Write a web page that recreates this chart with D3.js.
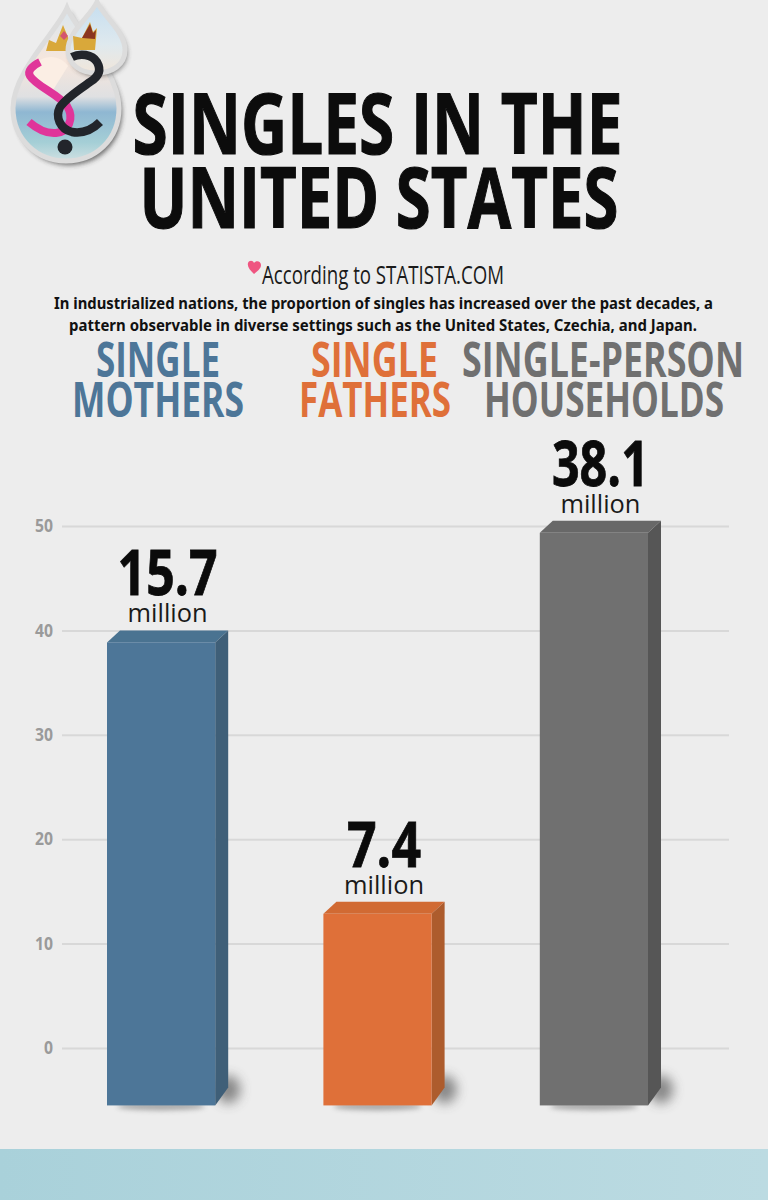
<!DOCTYPE html>
<html>
<head>
<meta charset="utf-8">
<script src="https://cdn.jsdelivr.net/npm/d3@7"></script>
<style>
  html,body{margin:0;padding:0;background:#ededed;}
  svg{display:block;}
  text{font-family:"Open Sans",sans-serif;}
</style>
</head>
<body>
<svg></svg>
<script>
// chart data
const categories = ["Single Mothers", "Single Fathers", "Single-Person Households"];
const barValues = [40, 14, 50.5];       // height against the drawn axis (back edge of bar top)
const bigLabels = ["15.7", "7.4", "38.1"];
const bigWidths = [100, 74, 97];
const unitLabel = "million";
const headerLines = [["SINGLE", "MOTHERS"], ["SINGLE", "FATHERS"], ["SINGLE-PERSON", "HOUSEHOLDS"]];
const headerX = [[158, 158], [374.5, 375], [603, 604]];
const headerW = [[124, 172], [127, 152], [282, 240]];
const frontColors = ["#4d7698", "#df7039", "#707070"];
const sideColors = ["#3f5f78", "#ad5c2d", "#565656"];
const topColors = ["#4a7391", "#d16a33", "#686868"];
const yTicks = [0, 10, 20, 30, 40, 50];
const axisBottomValue = -5.5;  // bars run on below the zero line

const svg = d3.select("svg").attr("width", 768).attr("height", 1200);
const defs = svg.append("defs");

// page background and teal strip
svg.append("rect").attr("width", 768).attr("height", 1200).attr("fill", "#ededed");
const teal = defs.append("linearGradient").attr("id", "teal");
teal.append("stop").attr("offset", "0").attr("stop-color", "#a9d1da");
teal.append("stop").attr("offset", "1").attr("stop-color", "#bcdbe2");
svg.append("rect").attr("y", 1149).attr("width", 768).attr("height", 51).attr("fill", "url(#teal)");

function addBlur(id, sd) {
  defs.append("filter").attr("id", id).attr("x", "-80%").attr("y", "-80%").attr("width", "260%").attr("height", "260%")
    .append("feGaussianBlur").attr("stdDeviation", sd);
}
addBlur("blur", 6);
addBlur("blur2", 2.5);

// helper: text squeezed to the width seen in the picture
function fitText(parent, str, x, y, size, w, fill, weight) {
  return parent.append("text")
    .attr("x", x).attr("y", y)
    .attr("text-anchor", "middle")
    .attr("font-size", size)
    .attr("font-weight", weight)
    .attr("fill", fill)
    .attr("textLength", w)
    .attr("lengthAdjust", "spacingAndGlyphs")
    .text(str);
}

// titles
fitText(svg, "SINGLES IN THE", 377.5, 154, 85, 490, "#0c0c0c", 700).attr("stroke", "#0c0c0c").attr("stroke-width", 1.2);
fitText(svg, "UNITED STATES", 379, 228, 85, 479, "#0c0c0c", 700).attr("stroke", "#0c0c0c").attr("stroke-width", 1.2);
fitText(svg, "According to STATISTA.COM", 383, 284, 25, 242, "#1a1a1a", 400);
fitText(svg, "In industrialized nations, the proportion of singles has increased over the past decades, a", 383.5, 309, 16.5, 659, "#111", 700)
  .style("font-family", "'Noto Sans',sans-serif");
fitText(svg, "pattern observable in diverse settings such as the United States, Czechia, and Japan.", 383, 331, 16.5, 628, "#111", 700)
  .style("font-family", "'Noto Sans',sans-serif");

svg.append("path")
  .attr("d", "M254,274 C250,270 247,267 248,263 C249,260 253,260 254,263 C256,260 261,261 261,265 C261,269 257,271 254,274 Z")
  .attr("fill", "#ef5581");

// column headers
headerLines.forEach((lines, i) => {
  lines.forEach((line, j) => {
    fitText(svg, line, headerX[i][j], j === 0 ? 377 : 417, 48, headerW[i][j], frontColors[i], 700);
  });
});

// scales
const y = d3.scaleLinear().domain([0, 50]).range([1048, 526]);
const x = d3.scaleBand().domain(categories).range([107, 648]).paddingInner(0.5);
const depthX = 13, depthY = 12;

// y axis with the grid lines
const yAxis = d3.axisLeft(y).tickValues(yTicks).tickSize(-667).tickPadding(9);
const axisG = svg.append("g").attr("transform", "translate(62,0)").call(yAxis);
axisG.select(".domain").remove();
axisG.selectAll(".tick line").attr("stroke", "#d8d8d8").attr("stroke-width", 2);
axisG.selectAll(".tick text")
  .attr("fill", "#9a9a9a")
  .attr("font-size", 18)
  .attr("font-weight", 700)
  .attr("textLength", d => d === 0 ? 9 : 18)
  .attr("lengthAdjust", "spacingAndGlyphs")
  .style("font-family", "'Open Sans',sans-serif");

// bars
const data = categories.map((c, i) => ({ c, i, v: barValues[i] }));
const bars = svg.selectAll("g.bar").data(data).enter().append("g").attr("class", "bar");
const bw = x.bandwidth();

// soft shadows on the floor
bars.append("ellipse")
  .attr("cx", d => x(d.c) + bw + depthX)
  .attr("cy", y(axisBottomValue) - 16)
  .attr("rx", 12).attr("ry", 14)
  .attr("fill", "#444").attr("opacity", .6).attr("filter", "url(#blur)");
bars.append("ellipse")
  .attr("cx", d => x(d.c) + bw / 2)
  .attr("cy", y(axisBottomValue) + 1)
  .attr("rx", bw / 2 - 10).attr("ry", 4)
  .attr("fill", "#666").attr("opacity", .5).attr("filter", "url(#blur2)");

// top face, then side face, then front
bars.append("path")
  .attr("fill", d => topColors[d.i])
  .attr("d", d => {
    const l = x(d.c), t = y(d.v);
    return `M${l},${t + depthY}L${l + depthX},${t}L${l + bw + depthX},${t}L${l + bw},${t + depthY}Z`;
  });
bars.append("path")
  .attr("fill", d => sideColors[d.i])
  .attr("d", d => {
    const r = x(d.c) + bw, t = y(d.v), b = y(axisBottomValue);
    return `M${r},${t + depthY}L${r + depthX},${t}L${r + depthX},${b - depthY - 6}L${r},${b}Z`;
  });
bars.append("rect")
  .attr("x", d => x(d.c))
  .attr("y", d => y(d.v) + depthY)
  .attr("width", bw)
  .attr("height", d => y(axisBottomValue) - y(d.v) - depthY)
  .attr("fill", d => frontColors[d.i]);

// value labels above the bars
bars.append("text")
  .attr("x", d => x(d.c) + bw / 2 + depthX / 2)
  .attr("y", d => y(d.v) - 35)
  .attr("text-anchor", "middle")
  .attr("font-size", 63)
  .attr("font-weight", 700)
  .attr("fill", "#0b0b0b")
  .attr("stroke", "#0b0b0b")
  .attr("stroke-width", .8)
  .attr("textLength", d => bigWidths[d.i])
  .attr("lengthAdjust", "spacingAndGlyphs")
  .text(d => bigLabels[d.i]);
bars.append("text")
  .attr("x", d => x(d.c) + bw / 2 + depthX / 2)
  .attr("y", d => y(d.v) - 8)
  .attr("text-anchor", "middle")
  .attr("font-size", 25)
  .attr("fill", "#1a1a1a")
  .attr("textLength", 80)
  .attr("lengthAdjust", "spacingAndGlyphs")
  .text(unitLabel);

// logo: two water drops with crowns and the S shapes
const logo = svg.append("g");
const sea = defs.append("linearGradient").attr("id", "sea").attr("x1", 0).attr("x2", 0).attr("y1", 0).attr("y2", 1);
[["0", "#d9e6ee"], [".35", "#f6e6dc"], [".58", "#dfe0e2"], [".68", "#8fb7d2"], [".88", "#a5cfd6"], ["1", "#cfe0e2"]]
  .forEach(s => sea.append("stop").attr("offset", s[0]).attr("stop-color", s[1]));
const sky = defs.append("linearGradient").attr("id", "sky").attr("x1", 0).attr("x2", 0).attr("y1", 0).attr("y2", 1);
[["0", "#c5def0"], [".6", "#dfe9ee"], ["1", "#f1e6da"]]
  .forEach(s => sky.append("stop").attr("offset", s[0]).attr("stop-color", s[1]));

const bigDrop = "M67,8 C58,30 13,72 13,108 C13,140 38,161 66,161 C95,161 119,140 119,108 C119,72 76,30 67,8 Z";
const smallDrop = "M97,2 C90,17 68,32 68,50 C68,65 81,73 96,73 C112,73 125,65 125,50 C125,32 104,17 97,2 Z";

logo.append("path").attr("d", bigDrop).attr("transform", "translate(3,4)").attr("fill", "#333").attr("opacity", .7).attr("filter", "url(#blur2)");
logo.append("path").attr("d", bigDrop).attr("fill", "url(#sea)").attr("stroke", "#dcdcdc").attr("stroke-width", 5);
// big crown
logo.append("path").attr("d", "M46,51 L49,40 L56,43 L63,25 L70,42 L76,38 L76,51 Z").attr("fill", "#d9a83a");
logo.append("path").attr("d", "M60,36 l4,-5 l4,5 l-4,4 Z").attr("fill", "#d4556e");
// cream heart behind the S
logo.append("path").attr("d", "M40,60 C52,54 62,58 68,66 L50,95 L32,80 C28,72 32,64 40,60 Z").attr("fill", "#fbeee4");
// pink S
logo.append("path")
  .attr("d", "M40,62 C32,66 27,71 30,76 C36,86 58,94 67,106 C75,119 68,132 56,133 C45,134 36,128 29,122")
  .attr("fill", "none").attr("stroke", "#e0359a").attr("stroke-width", 8);
// small drop goes over the big one
logo.append("path").attr("d", smallDrop).attr("transform", "translate(2,3)").attr("fill", "#333").attr("opacity", .6).attr("filter", "url(#blur2)");
logo.append("path").attr("d", smallDrop).attr("fill", "url(#sky)").attr("stroke", "#dcdcdc").attr("stroke-width", 5);
// small crown
logo.append("path").attr("d", "M74,50 L73,36 L82,38 L90,22 L93,32 L97,28 L95,50 Z").attr("fill", "#d9a83a");
logo.append("path").attr("d", "M82,38 L90,24 L93,33 L96,30 L95,39 Z").attr("fill", "#8a3520");
// black hook
logo.append("path")
  .attr("d", "M72,57 C80,53 92,54 97,62 C102,71 98,77 90,82 C80,89 66,98 60,107 C55,117 60,129 72,132 C84,134 94,128 100,122")
  .attr("fill", "none").attr("stroke", "#22252b").attr("stroke-width", 8.5);
logo.append("circle").attr("cx", 65).attr("cy", 147).attr("r", 7.5).attr("fill", "#22252b");
</script>
</body>
</html>
